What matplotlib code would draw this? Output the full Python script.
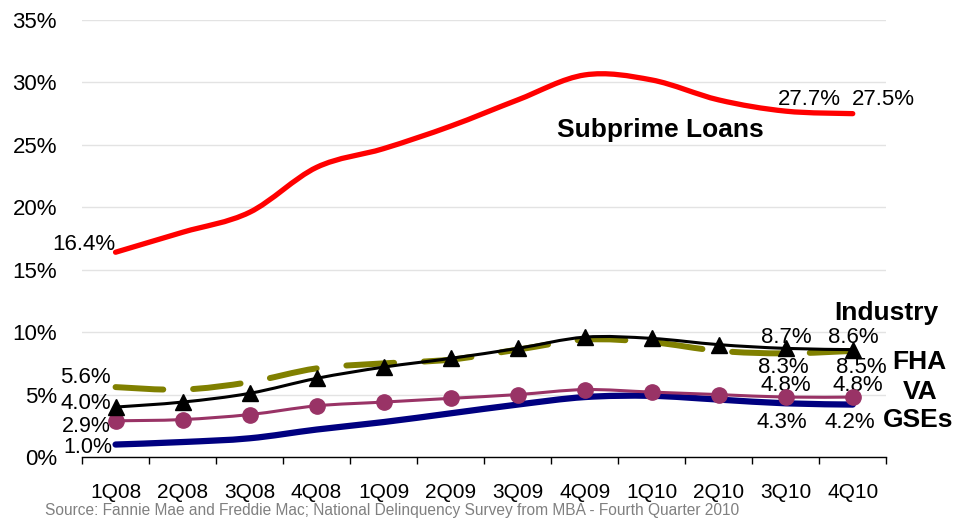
import numpy as np
import matplotlib.pyplot as plt
from matplotlib.path import Path
from matplotlib.patches import PathPatch

plt.rcParams['font.family'] = ['Liberation Sans', 'DejaVu Sans']

quarters = ['1Q08', '2Q08', '3Q08', '4Q08', '1Q09', '2Q09', '3Q09', '4Q09',
            '1Q10', '2Q10', '3Q10', '4Q10']
subprime = [16.4, 18.0, 19.6, 23.2, 24.7, 26.5, 28.6, 30.6, 30.2, 28.6, 27.7, 27.5]
industry = [4.0, 4.4, 5.1, 6.3, 7.2, 7.9, 8.7, 9.6, 9.5, 9.0, 8.7, 8.6]
fha = [5.6, 5.4, 6.0, 7.1, 7.5, 7.8, 8.6, 9.4, 9.2, 8.5, 8.3, 8.5]
va = [2.9, 3.0, 3.4, 4.1, 4.4, 4.7, 5.0, 5.4, 5.2, 5.0, 4.8, 4.8]
gses = [1.0, 1.2, 1.5, 2.2, 2.8, 3.5, 4.2, 4.8, 4.9, 4.6, 4.3, 4.2]
yticks = [0, 5, 10, 15, 20, 25, 30, 35]


def smooth_path(xs, ys):
    # excel-style smoothed line: cubic bezier through each point
    pts = np.column_stack([xs, ys]).astype(float)
    verts = [pts[0]]
    codes = [Path.MOVETO]
    n = len(pts)
    for i in range(n - 1):
        p0 = pts[max(i - 1, 0)]
        p1 = pts[i]
        p2 = pts[i + 1]
        p3 = pts[min(i + 2, n - 1)]
        c1 = p1 + (p2 - p0) / 6.0
        c2 = p2 - (p3 - p1) / 6.0
        verts += [c1, c2, p2]
        codes += [Path.CURVE4] * 3
    return Path(verts, codes)


def smooth_line(ax, ys, **kw):
    xs = np.arange(len(ys))
    patch = PathPatch(smooth_path(xs, ys), facecolor='none', capstyle='round',
                      joinstyle='round', **kw)
    ax.add_patch(patch)
    return patch


fig = plt.figure(figsize=(9.54, 5.21), dpi=100)
ax = fig.add_axes([0.086, 0.1228, 0.843, 0.8388])
x = np.arange(len(quarters))

smooth_line(ax, subprime, edgecolor='#FF0000', lw=3.8, zorder=3)
smooth_line(ax, gses, edgecolor='#000080', lw=4.5, zorder=3)
smooth_line(ax, fha, edgecolor='#808000', lw=4.3, linestyle=(0, (8, 5)), zorder=4)
smooth_line(ax, va, edgecolor='#993366', lw=2.2, zorder=5)
ax.plot(x, va, 'o', color='#993366', ms=11, zorder=5)
smooth_line(ax, industry, edgecolor='black', lw=2.2, zorder=6)
ax.plot(x, industry, '^', color='black', ms=11, zorder=6)

ax.set_xlim(-0.5, 11.5)
ax.set_ylim(0, 35)
ax.set_yticks(yticks)
ax.set_yticklabels([f'{v}%' for v in yticks], fontsize=16)
ax.yaxis.grid(True, color='#E3E3E3', lw=1)
ax.set_axisbelow(True)
ax.tick_params(axis='y', length=0, pad=18)

ax.set_xticks(x)
ax.set_xticklabels(quarters, fontsize=15)
ax.set_xticks(np.arange(-0.5, 12, 1), minor=True)
ax.tick_params(axis='x', which='major', length=0, pad=19)
ax.tick_params(axis='x', which='minor', length=5, width=1, color='black')

for spine in ('top', 'right', 'left'):
    ax.spines[spine].set_visible(False)
ax.spines['bottom'].set_color('black')
ax.spines['bottom'].set_linewidth(1)

fs = 16
# value labels
ax.text(0.0, 17.0, '16.4%', fontsize=fs, ha='right', va='center')
ax.text(10.36, 28.6, '27.7%', fontsize=fs, ha='center', va='center')
ax.text(11.45, 28.6, '27.5%', fontsize=fs, ha='center', va='center')
ax.text(-0.07, 6.4, '5.6%', fontsize=fs, ha='right', va='center')
ax.text(-0.07, 4.3, '4.0%', fontsize=fs, ha='right', va='center')
ax.text(-0.07, 2.45, '2.9%', fontsize=15.5, ha='right', va='center')
ax.text(-0.04, 0.8, '1.0%', fontsize=15.5, ha='right', va='center')
ax.text(10.01, 9.55, '8.7%', fontsize=fs, ha='center', va='center')
ax.text(11.01, 9.55, '8.6%', fontsize=fs, ha='center', va='center')
ax.text(9.96, 7.2, '8.3%', fontsize=fs, ha='center', va='center')
ax.text(11.13, 7.2, '8.5%', fontsize=fs, ha='center', va='center')
ax.text(10.0, 5.7, '4.8%', fontsize=fs, ha='center', va='center')
ax.text(11.07, 5.7, '4.8%', fontsize=fs, ha='center', va='center')
ax.text(9.94, 2.8, '4.3%', fontsize=fs, ha='center', va='center')
ax.text(10.96, 2.8, '4.2%', fontsize=fs, ha='center', va='center')

# series names
bold = dict(fontsize=19, fontweight='bold', va='center', ha='center')
ax.text(8.13, 26.2, 'Subprime Loans', **bold)
ax.text(11.5, 11.5, 'Industry', **bold)
ax.text(12.0, 7.6, 'FHA', **bold)
ax.text(12.01, 5.2, 'VA', **bold)
ax.text(11.97, 3.0, 'GSEs', **bold)

fig.text(45 / 954, 1 - 511 / 521,
         'Source: Fannie Mae and Freddie Mac; National Delinquency Survey from MBA - Fourth Quarter 2010',
         fontsize=11.2, color='#808080', ha='left', va='center')

fig.savefig('out.png', dpi=100)
